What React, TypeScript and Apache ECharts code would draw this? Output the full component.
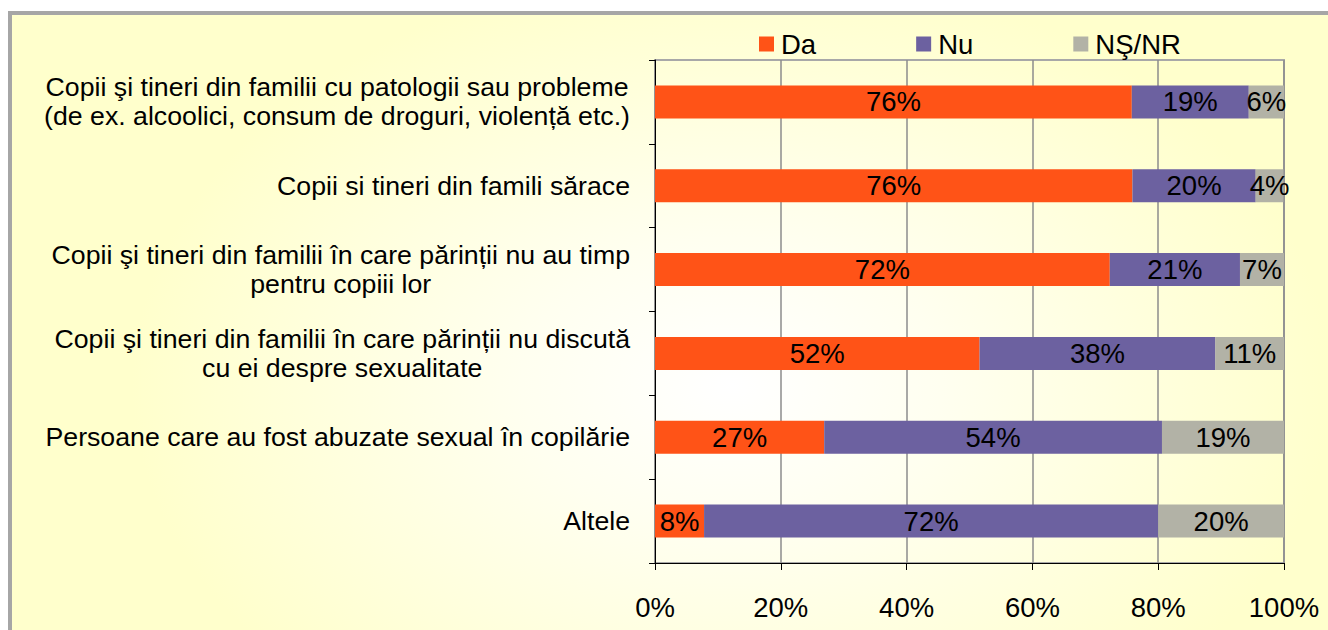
import React, { useEffect, useRef } from "react";
import * as echarts from "echarts";

const categories = [
  "Copii şi tineri din familii cu patologii sau probleme\n(de ex. alcoolici, consum de droguri, violență etc.)",
  "Copii si tineri din famili sărace",
  "Copii şi tineri din familii în care părinții nu au timp\npentru copiii lor",
  "Copii şi tineri din familii în care părinții nu discută\ncu ei despre sexualitate",
  "Persoane care au fost abuzate sexual în copilărie",
  "Altele",
];
const seriesNames = ["Da", "Nu", "NŞ/NR"];
const da = [75.8, 75.9, 72.3, 51.6, 26.9, 7.8];
const nu = [18.6, 19.6, 20.7, 37.5, 53.7, 72.2];
const nsnr = [5.6, 4.4, 7.0, 10.9, 19.4, 20.0];
const xTicks = [0, 20, 40, 60, 80, 100];

const colors = ["#FF5317", "#6C61A0", "#B2B2A6"];
const FONT = "'Liberation Sans', Arial, sans-serif";

export default function App() {
  const ref = useRef<HTMLDivElement>(null);
  useEffect(() => {
    if (!ref.current) return;
    const chart = echarts.init(ref.current, undefined, { renderer: "svg" });
    const values = [da, nu, nsnr];
    chart.setOption({
      animation: false,
      textStyle: { fontFamily: FONT, color: "#000" },
      legend: {
        left: 754,
        top: 25,
        itemWidth: 15,
        itemHeight: 15,
        itemGap: 100,
        icon: "rect",
        textStyle: {
          fontSize: 27.5,
          lineHeight: 28,
          color: "#000",
          fontFamily: FONT,
          padding: [0, 0, 0, 2],
        },
        data: seriesNames,
      },
      grid: {
        left: 655,
        right: 44,
        top: 60,
        bottom: 67,
        show: true,
        borderColor: "#A8A8A8",
        borderWidth: 2,
        backgroundColor: "transparent",
      },
      xAxis: {
        type: "value",
        min: xTicks[0],
        max: xTicks[xTicks.length - 1],
        interval: 20,
        axisLine: { show: true, lineStyle: { color: "#000", width: 1 } },
        axisTick: { show: true, length: 7, lineStyle: { color: "#000" } },
        splitLine: { show: true, lineStyle: { color: "#8C8C8C", width: 1.5 } },
        axisLabel: {
          formatter: "{value}%",
          fontSize: 27.5,
          color: "#000",
          margin: 30,
          fontFamily: FONT,
        },
      },
      yAxis: {
        type: "category",
        inverse: true,
        data: categories,
        axisLine: { show: true, lineStyle: { color: "#000", width: 1 } },
        axisTick: { show: true, length: 6, lineStyle: { color: "#000" } },
        axisLabel: {
          margin: 25,
          color: "#000",
          fontFamily: FONT,
          fontSize: 26.7,
          lineHeight: 29,
          formatter: (v: string) =>
            v
              .split("\n")
              .map((l) => `{c|${l}}`)
              .join("\n"),
          rich: {
            c: {
              align: "center",
              fontSize: 26.7,
              lineHeight: 29,
              color: "#000",
              fontFamily: FONT,
            },
          },
        },
      },
      series: seriesNames.map((name, i) => ({
        name,
        type: "bar",
        stack: "total",
        barWidth: 33,
        data: values[i],
        itemStyle: { color: colors[i] },
        label: {
          show: true,
          position: "inside",
          color: "#000",
          fontSize: 27.5,
          fontFamily: FONT,
          formatter: (p: any) => `${Math.round(p.value)}%`,
        },
      })),
    });
    return () => chart.dispose();
  }, []);

  return (
    <div
      style={{
        position: "fixed",
        left: 0,
        top: 0,
        width: 1328,
        height: 630,
        background: "#ffffff",
        overflow: "hidden",
      }}
    >
      <div
        style={{
          position: "absolute",
          left: 8,
          top: 11,
          width: 1400,
          height: 700,
          border: "4px solid #A6A6A6",
          background:
            "radial-gradient(ellipse 600px 420px at 720px 370px, #ffffff 0%, #fffff0 35%, #ffffcc 100%)",
        }}
      />
      <div
        ref={ref}
        style={{ position: "absolute", left: 0, top: 0, width: 1328, height: 630 }}
      />
    </div>
  );
}
